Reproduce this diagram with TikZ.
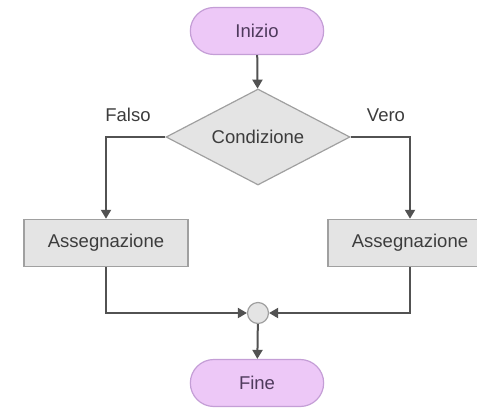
\documentclass[tikz,border=0pt]{standalone}
\usepackage{fontspec}
\setmainfont{Liberation Sans}
\usetikzlibrary{shapes.geometric,shapes.misc,arrows.meta}
\definecolor{pillfill}{RGB}{237,200,247}
\definecolor{pillline}{RGB}{196,158,214}
\definecolor{pilltext}{RGB}{78,58,92}
\definecolor{boxfill}{RGB}{228,228,228}
\definecolor{boxline}{RGB}{160,160,160}
\definecolor{flowgray}{RGB}{82,82,82}
\definecolor{textgray}{RGB}{60,60,60}

\begin{document}
\begin{tikzpicture}[x=1pt,y=-1pt,
    every node/.style={font=\fontsize{18.5}{22}\selectfont, text=textgray},
    terminal/.style={rounded rectangle, draw=pillline, line width=1.2pt, fill=pillfill,
      text=pilltext, minimum width=140pt, minimum height=47pt},
    decision/.style={diamond, draw=boxline, line width=1.2pt, fill=boxfill, aspect=2,
      inner sep=0pt, minimum width=184pt, minimum height=96pt},
    process/.style={rectangle, draw=boxline, line width=1.5pt, fill=boxfill,
      minimum width=164pt, minimum height=47pt},
    junction/.style={circle, draw=boxline, line width=1.2pt, fill=boxfill,
      inner sep=0pt, minimum size=21pt},
    flow/.style={draw=flowgray, line width=2pt, -{Triangle[length=9pt,width=10pt]}}]
    \useasboundingbox (0,0) rectangle (477,408);
    \node[terminal] (start) at (257,31) {Inizio};
    \node[decision] (cond) at (258,137) {Condizione};
    \node (falso) at (128,115) {Falso};
    \node (vero) at (386,115) {Vero};
    \node[process] (assL) at (106,243) {Assegnazione};
    \node[process] (assR) at (410,243) {Assegnazione};
    \node[junction] (merge) at (258,313) {};
    \node[terminal] (stop) at (257,383) {Fine};
    % collegamenti
    \draw[flow] (start) -- (cond);
    \draw[flow] (cond.west) -| (assL.north);
    \draw[flow] (cond.east) -| (assR.north);
    \draw[flow] (assL.south) |- (merge.west);
    \draw[flow] (assR.south) |- (merge.east);
    \draw[flow] (merge) -- (stop);
\end{tikzpicture}
\end{document}
